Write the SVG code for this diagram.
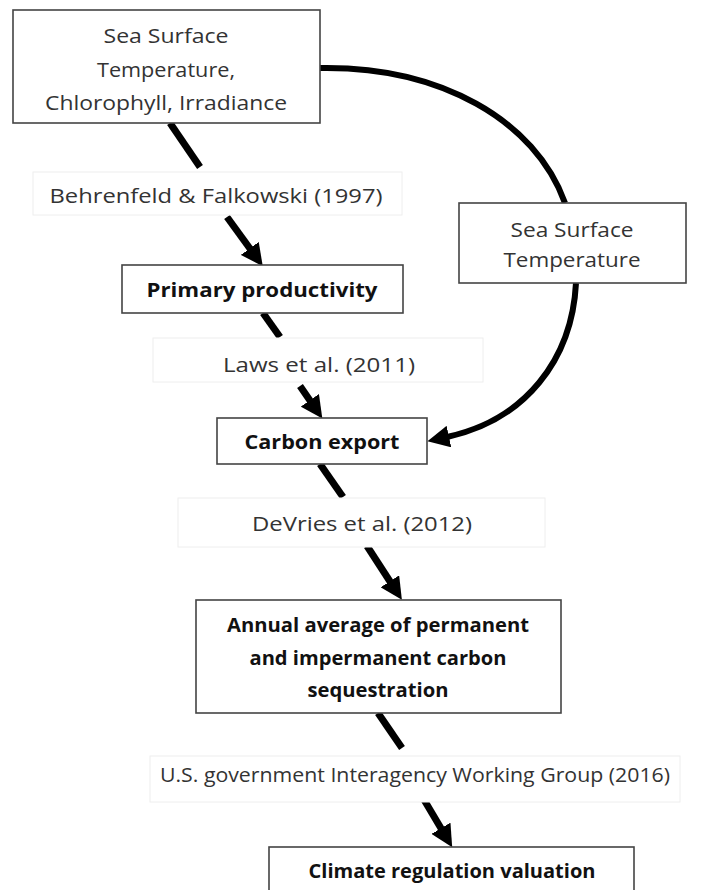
<svg xmlns="http://www.w3.org/2000/svg" width="728" height="890" viewBox="0 0 728 890">
<style>
.box{fill:#fff;stroke:#444;stroke-width:1.6}
.lbl{fill:#fff;stroke:#eee;stroke-width:1}
.t{font-family:"Open Sans","Liberation Sans",sans-serif;font-size:20px;fill:#333;text-anchor:middle}
.b{font-family:"Open Sans","Liberation Sans",sans-serif;font-size:20px;font-weight:bold;fill:#111;text-anchor:middle}
.c{fill:none;stroke:#000;stroke-width:7}
.cv{fill:none;stroke:#000;stroke-width:6}
</style>
<defs>
<marker id="ah" markerUnits="userSpaceOnUse" markerWidth="22" markerHeight="22" refX="2" refY="11" orient="auto">
<path d="M0,0 L22,11 L0,22 z" fill="#000"/>
</marker>
</defs>
<rect width="728" height="890" fill="#fff"/>
<g id="connectors">
<line class="c" x1="170" y1="123" x2="200" y2="167"/>
<line class="c" x1="227" y1="217" x2="251" y2="250" marker-end="url(#ah)"/>
<line class="c" x1="263" y1="313" x2="280" y2="337"/>
<line class="c" x1="300" y1="386" x2="311" y2="402" marker-end="url(#ah)"/>
<line class="c" x1="320" y1="464" x2="343" y2="497"/>
<line class="c" x1="367" y1="546" x2="391" y2="583" marker-end="url(#ah)"/>
<line class="c" x1="378" y1="713" x2="402" y2="748"/>
<line class="c" x1="423" y1="798" x2="442" y2="830" marker-end="url(#ah)"/>
<path class="cv" d="M320,68 C440,66 535,120 565,203"/>
<path class="cv" d="M576,283 C572,360 525,420 447,437" marker-end="url(#ah)"/>
</g>
<g id="lbl1"><rect class="lbl" x="33" y="172" width="369" height="43"/><text class="t" x="216" y="203" textLength="333" lengthAdjust="spacingAndGlyphs">Behrenfeld &amp; Falkowski (1997)</text></g>
<g id="lbl2"><rect class="lbl" x="153" y="338" width="330" height="44"/><text class="t" x="319" y="372" textLength="192" lengthAdjust="spacingAndGlyphs">Laws et al. (2011)</text></g>
<g id="lbl3"><rect class="lbl" x="178" y="498" width="367" height="49"/><text class="t" x="362" y="531" textLength="220" lengthAdjust="spacingAndGlyphs">DeVries et al. (2012)</text></g>
<g id="lbl4"><rect class="lbl" x="150" y="756" width="530" height="46"/><text class="t" x="415" y="782" textLength="510" lengthAdjust="spacingAndGlyphs">U.S. government Interagency Working Group (2016)</text></g>
<g id="n1"><rect class="box" x="13" y="10" width="307" height="113"/>
<text class="t" x="166" y="43" textLength="125" lengthAdjust="spacingAndGlyphs">Sea Surface</text>
<text class="t" x="166" y="77" textLength="138" lengthAdjust="spacingAndGlyphs">Temperature,</text>
<text class="t" x="166" y="110" textLength="242" lengthAdjust="spacingAndGlyphs">Chlorophyll, Irradiance</text></g>
<g id="n2"><rect class="box" x="459" y="203" width="227" height="80"/>
<text class="t" x="572" y="237" textLength="123" lengthAdjust="spacingAndGlyphs">Sea Surface</text>
<text class="t" x="572" y="267" textLength="137" lengthAdjust="spacingAndGlyphs">Temperature</text></g>
<g id="n3"><rect class="box" x="122" y="265" width="281" height="48"/>
<text class="b" x="262" y="297" textLength="231" lengthAdjust="spacingAndGlyphs">Primary productivity</text></g>
<g id="n4"><rect class="box" x="217" y="418" width="210" height="46"/>
<text class="b" x="322" y="449" textLength="155" lengthAdjust="spacingAndGlyphs">Carbon export</text></g>
<g id="n5"><rect class="box" x="196" y="600" width="365" height="113"/>
<text class="b" x="378" y="632" textLength="302" lengthAdjust="spacingAndGlyphs">Annual average of permanent</text>
<text class="b" x="378" y="665" textLength="257" lengthAdjust="spacingAndGlyphs">and impermanent carbon</text>
<text class="b" x="378" y="697" textLength="141" lengthAdjust="spacingAndGlyphs">sequestration</text></g>
<g id="n6"><rect class="box" x="269" y="847" width="365" height="60"/>
<text class="b" x="452" y="878" textLength="287" lengthAdjust="spacingAndGlyphs">Climate regulation valuation</text></g>
</svg>
